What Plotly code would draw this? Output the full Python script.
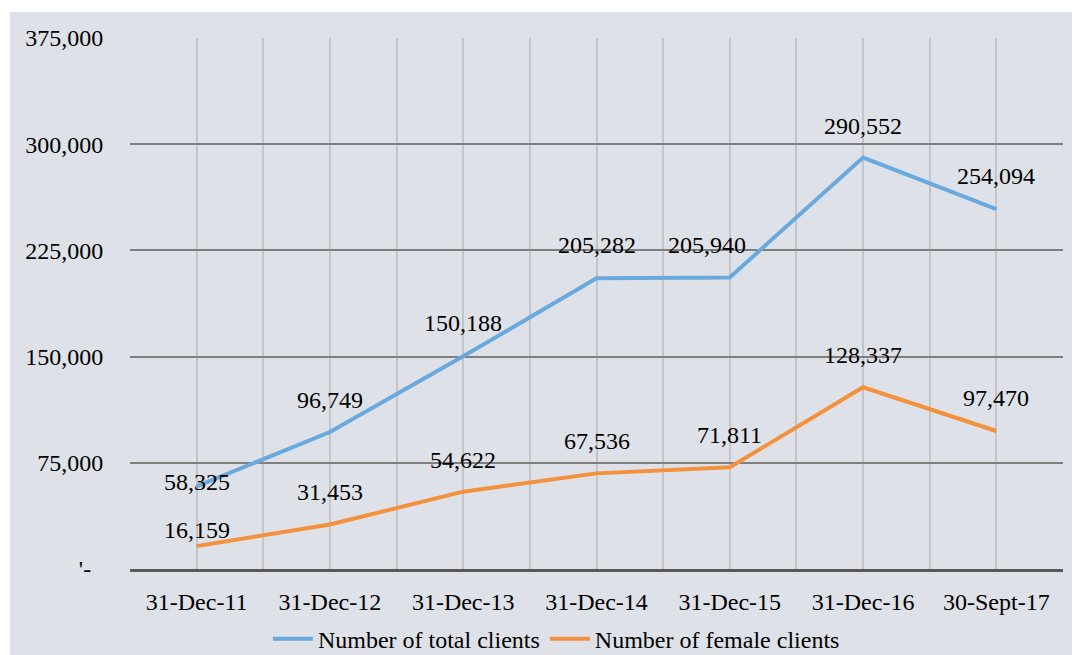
import plotly.graph_objects as go

dates = ["31-Dec-11", "31-Dec-12", "31-Dec-13", "31-Dec-14", "31-Dec-15", "31-Dec-16", "30-Sept-17"]
total_clients = [58325, 96749, 150188, 205282, 205940, 290552, 254094]
female_clients = [16159, 31453, 54622, 67536, 71811, 128337, 97470]
y_ticks = [0, 75000, 150000, 225000, 300000, 375000]
y_tick_text = ["'-\u00a0\u00a0", "75,000", "150,000", "225,000", "300,000", "375,000"]

# label nudges in pixels (x, y) so labels sit like the original
total_shift = [(0, 4), (0, 32), (0, 33), (0, 33), (-23, 32), (0, 32), (0, 33)]
female_shift = [(0, 16), (0, 32), (0, 32), (0, 32), (0, 32), (0, 32), (0, 33)]

FONT = "'Liberation Serif', 'Times New Roman', serif"
BLUE = "#6aa9dd"
ORANGE = "#f4913c"
BG = "#dee2e8"
FS = 24

x = list(range(len(dates)))

fig = go.Figure()
fig.add_trace(go.Scatter(x=x, y=total_clients, mode="lines", name="Number of total clients",
                         line=dict(color=BLUE, width=4)))
fig.add_trace(go.Scatter(x=x, y=female_clients, mode="lines", name="Number of female clients",
                         line=dict(color=ORANGE, width=4)))

for series, shifts in [(total_clients, total_shift), (female_clients, female_shift)]:
    for i, v in enumerate(series):
        fig.add_annotation(x=i, y=v, text=f"{v:,}", showarrow=False,
                           xshift=shifts[i][0], yshift=shifts[i][1],
                           font=dict(family=FONT, size=FS, color="black"))

# grey panel behind everything, white strip on top/left
fig.add_shape(type="rect", xref="paper", yref="paper", x0=-0.1286, x1=1.03, y0=-0.2, y1=1.049,
              fillcolor=BG, line=dict(width=0), layer="below")

# page body has an 8px margin, so the figure is sized/offset to compensate
fig.update_layout(
    width=1072, height=647,
    margin=dict(l=122, r=17, t=30, b=86, autoexpand=False),
    paper_bgcolor="white",
    plot_bgcolor="rgba(0,0,0,0)",
    font=dict(family=FONT, size=FS, color="black"),
    showlegend=True,
    legend=dict(orientation="h", x=0.457, xanchor="center", y=-0.132, yanchor="middle",
                bgcolor="rgba(0,0,0,0)", font=dict(family=FONT, size=FS), itemwidth=40),
    xaxis=dict(
        range=[-0.5, 6.5], tickvals=x, ticktext=dates,
        showgrid=False, zeroline=False,
        showline=True, linecolor="#595959", linewidth=3,
        ticks="outside", ticklen=9, tickcolor="rgba(0,0,0,0)",
        tickfont=dict(family=FONT, size=FS),
        minor=dict(tick0=-0.5, dtick=0.5, showgrid=True, gridcolor="#c3c5c8", gridwidth=2),
    ),
    yaxis=dict(
        range=[0, 375000], tickvals=y_ticks, ticktext=y_tick_text,
        showgrid=True, gridcolor="#7f7f7f", gridwidth=2, zeroline=False,
        ticks="outside", ticklen=21, tickcolor="rgba(0,0,0,0)",
        tickfont=dict(family=FONT, size=FS),
    ),
)

fig.write_html("out.html")
